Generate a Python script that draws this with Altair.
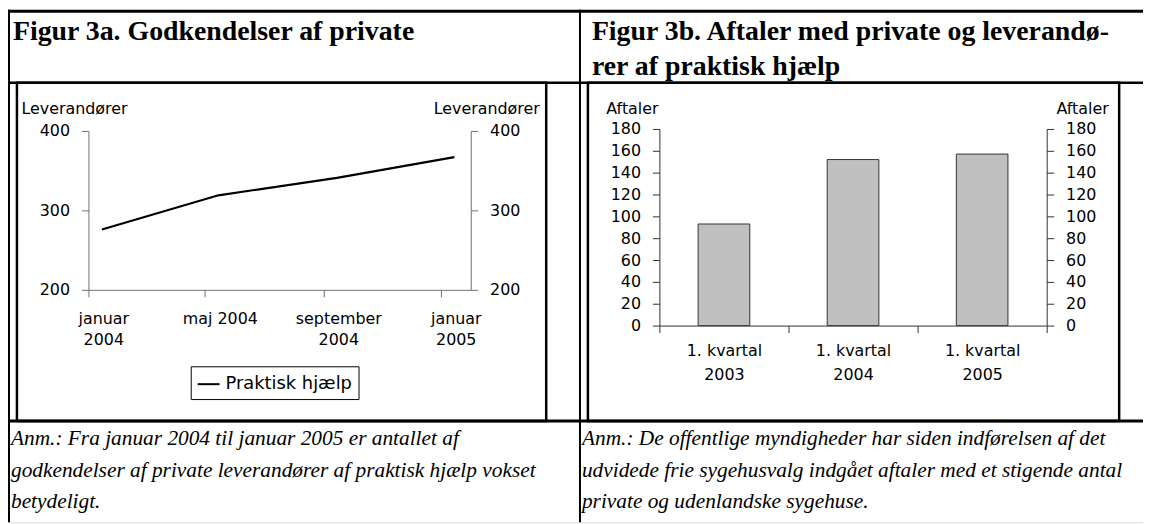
import json
from datetime import datetime, timezone

import altair as alt
import pandas as pd

# ---------------- data ----------------
months = ["2004-01-15", "2004-05-15", "2004-09-15", "2005-01-15"]
praktisk = [276, 319, 341, 367]
series_name = "Praktisk hjælp"
line_ticks = [200, 300, 400]
x_tick_dates = ["2004-01-01", "2004-05-01", "2004-09-01", "2005-01-01"]
x_tick_labels = [["januar", "2004"], ["maj 2004"], ["september", "2004"], ["januar", "2005"]]
x_domain = ["2004-01-01", "2005-02-01"]

quarters = ["1. kvartal 2003", "1. kvartal 2004", "1. kvartal 2005"]
aftaler = [93, 152, 157]
bar_ticks = [0, 20, 40, 60, 80, 100, 120, 140, 160, 180]

title_a = "Figur 3a. Godkendelser af private"
title_b = ["Figur 3b. Aftaler med private og leverandø-", "rer af praktisk hjælp"]
note_a = ["Anm.: Fra januar 2004 til januar 2005 er antallet af",
          "godkendelser af private leverandører af praktisk hjælp vokset",
          "betydeligt."]
note_b = ["Anm.: De offentlige myndigheder har siden indførelsen af det",
          "udvidede frie sygehusvalg indgået aftaler med et stigende antal",
          "private og udenlandske sygehuse."]
axis_title_a = "Leverandører"
axis_title_b = "Aftaler"

# ---------------- layout (page px -> svg px) ----------------
W, H = 1143, 516
M = 8


def P(v):
    return v - M


def dt(s):
    y, m, d = map(int, s.split("-"))
    return alt.DateTime(year=y, month=m, date=d, utc=True)


def ms(s):
    return int(datetime.strptime(s, "%Y-%m-%d").replace(tzinfo=timezone.utc).timestamp() * 1000)


SANS = "DejaVu Sans"
SERIF = "Liberation Serif"
AX_A = "#707070"
AX_B = "#303030"

# line chart geometry
LA_L, LA_R, LA_T, LA_B = P(89), P(474), P(130), P(290)
# bar chart geometry
BA_L, BA_R, BA_T, BA_B = P(664), P(1054), P(128), P(326)

one = pd.DataFrame({"k": [0]})


def rule(x, x2, y, y2, w):
    return alt.Chart(one).mark_rule(color="black", strokeWidth=w).encode(
        x=alt.value(x), x2=alt.value(x2), y=alt.value(y), y2=alt.value(y2))


def box(x, x2, y, y2, w):
    return alt.Chart(one).mark_rect(fillOpacity=0, stroke="black", strokeWidth=w).encode(
        x=alt.value(x), x2=alt.value(x2), y=alt.value(y), y2=alt.value(y2))


def text(t, x, y, font, size, weight="normal", style="normal", lh=None):
    kw = dict(align="left", baseline="alphabetic", font=font, fontSize=size,
              fontWeight=weight, fontStyle=style, color="black")
    if lh is not None:
        kw["lineHeight"] = lh
    return alt.Chart(one).mark_text(**kw).encode(
        x=alt.value(x), y=alt.value(y), text=alt.value(t))


frame = [
    rule(0, W, P(9.5), P(9.5), 3),
    rule(0, W, P(81.5), P(81.5), 2.5),
    rule(0, W, P(422), P(422), 3),
    rule(P(9), P(9), 0, H, 2),
    rule(P(584), P(584), 0, H, 2),
    box(P(17), P(550), P(81.5), P(422), 2.5),
    box(P(592), P(1127), P(81.5), P(422), 2.5),
]

texts = [
    text(title_a, P(13), P(38), SERIF, 28, weight="bold"),
    text(title_b, P(596), P(38), SERIF, 28, weight="bold", lh=36),
    text(note_a, P(11), P(446), SERIF, 21.5, style="italic", lh=32),
    text(note_b, P(586), P(446), SERIF, 21.5, style="italic", lh=32),
]


def axis_style(color):
    return dict(grid=False, domainColor=color, tickColor=color, domainWidth=1, tickWidth=1,
                tickSize=7, labelFont=SANS, labelFontSize=16, labelColor="black",
                titleFont=SANS, titleFontSize=16, titleFontWeight="normal",
                titleColor="black", titleAngle=0, titleBaseline="alphabetic")


# ---------------- line chart ----------------
line_df = pd.DataFrame({"måned": months, "værdi": praktisk, "serie": series_name})
tick_ms = [ms(s) for s in x_tick_dates]
label_expr = f"{json.dumps(x_tick_labels, ensure_ascii=False)}[indexof({json.dumps(tick_ms)}, +datum.value)]"

y_line_scale = alt.Scale(domain=[200, 400], range=[LA_B, LA_T], nice=False, zero=False)

line = alt.Chart(line_df).mark_line(strokeWidth=2.2).encode(
    x=alt.X("måned:T",
            scale=alt.Scale(domain=[dt(x_domain[0]), dt(x_domain[1])], range=[LA_L, LA_R], nice=False),
            axis=alt.Axis(orient="bottom", offset=LA_B - H, values=[dt(s) for s in x_tick_dates],
                          labelExpr=label_expr, labelOffset=15, labelPadding=14, labelLineHeight=21,
                          labelBaseline="top", labelAlign="center", labelAngle=0, title=None,
                          labelOverlap=False, labelFlush=False, **axis_style(AX_A))),
    y=alt.Y("værdi:Q", scale=y_line_scale,
            axis=alt.Axis(orient="left", offset=-LA_L, values=line_ticks, labelPadding=12,
                          title=axis_title_a, titleX=P(21) - LA_L, titleY=P(112), titleAlign="left",
                          **axis_style(AX_A))),
    color=alt.Color("serie:N", scale=alt.Scale(range=["black"]),
                    legend=alt.Legend(orient="none", legendX=P(192), legendY=P(367), title=None,
                                      strokeColor="black", fillColor="white", padding=6,
                                      symbolType="stroke", symbolStrokeWidth=2, symbolSize=484,
                                      symbolStrokeColor="black",
                                      labelFont=SANS, labelFontSize=18, labelColor="black",
                                      labelOffset=5)),
)

line_right = alt.Chart(line_df).mark_point(opacity=0).encode(
    y=alt.Y("værdi:Q", scale=y_line_scale,
            axis=alt.Axis(orient="right", offset=LA_R - W, values=line_ticks, labelPadding=12,
                          title=axis_title_a, titleX=P(543) - LA_R, titleY=P(112), titleAlign="right",
                          **axis_style(AX_A))),
)

# ---------------- bar chart ----------------
bar_df = pd.DataFrame({"kvartal": quarters, "aftaler": aftaler})
y_bar_scale = alt.Scale(domain=[0, 180], range=[BA_B, BA_T], nice=False, zero=True)

bars = alt.Chart(bar_df).mark_bar(width=alt.RelativeBandSize(0.4), color="#c0c0c0",
                                  stroke="#333333", strokeWidth=1).encode(
    x=alt.X("kvartal:N", sort=quarters,
            scale=alt.Scale(range=[BA_L, BA_R], paddingInner=0, paddingOuter=0),
            axis=alt.Axis(orient="bottom", offset=BA_B - H, tickBand="extent",
                          labelExpr="[substring(datum.label, 0, 10), substring(datum.label, 11)]",
                          labelPadding=10, labelLineHeight=24, labelBaseline="top", labelAngle=0,
                          title=None, **axis_style(AX_B))),
    y=alt.Y("aftaler:Q", scale=y_bar_scale,
            axis=alt.Axis(orient="left", offset=-BA_L, values=bar_ticks, labelPadding=12,
                          title=axis_title_b, titleX=P(610) - BA_L, titleY=P(112), titleAlign="left",
                          **axis_style(AX_B))),
)

bars_right = alt.Chart(bar_df).mark_point(opacity=0).encode(
    y=alt.Y("aftaler:Q", scale=y_bar_scale,
            axis=alt.Axis(orient="right", offset=BA_R - W, values=bar_ticks, labelPadding=12,
                          title=axis_title_b, titleX=P(1116) - BA_R, titleY=P(112), titleAlign="right",
                          **axis_style(AX_B))),
)

chart = alt.layer(*frame, line, line_right, bars, bars_right, *texts).resolve_scale(
    x="independent", y="independent", color="independent"
).properties(
    width=W, height=H, autosize=alt.AutoSizeParams(type="none"), padding=0
).configure_view(strokeWidth=0).configure(background="white")

chart.save("out.html", embed_options={"renderer": "svg", "actions": False})
